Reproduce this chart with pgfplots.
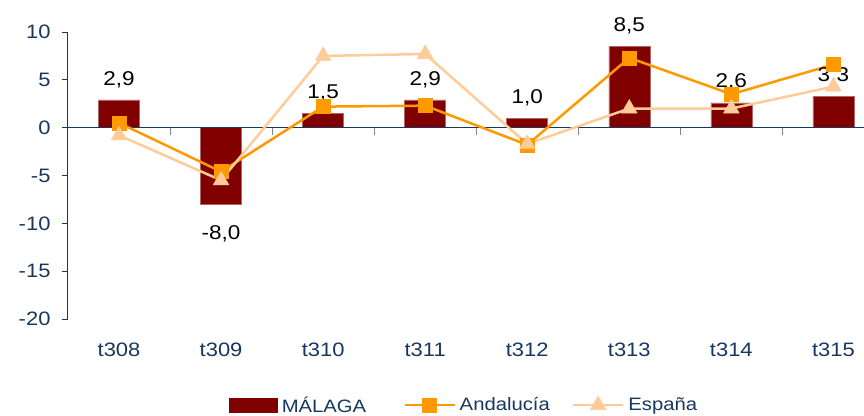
\documentclass[border=0pt]{standalone}
\usepackage{pgfplots}
\pgfplotsset{compat=1.18}
\usepackage{fontspec}
\setmainfont[FakeStretch=1.13]{Liberation Sans}
\definecolor{navy}{HTML}{17375E}
\definecolor{mal}{HTML}{800000}
\definecolor{andc}{HTML}{FF9900}
\definecolor{espc}{HTML}{FFCC99}
\pgfplotsset{
  lineleg/.style={legend image code/.code={\draw[##1] (0bp,0bp) -- (50bp,0bp); \draw[##1, mark repeat=1] plot coordinates {(25bp,0bp)};}},
  barleg/.style={legend image code/.code={\fill[mal] (0bp,-7bp) rectangle (48bp,7bp);}},
}
\begin{document}
\begin{tikzpicture}[x=1bp,y=1bp]
\useasboundingbox (-68bp,-97bp) rectangle (796bp,319bp);
\begin{axis}[
  scale only axis, width=796bp, height=287bp,
  anchor=south west, at={(0,0)},
  xmin=-0.5, xmax=7.3, ymin=-20, ymax=10,
  clip=false,
  axis x line*=bottom, x axis line style={draw=none},
  axis y line*=left, y axis line style={navy, line width=1bp, -},
  xtick={0,...,7},
  xticklabels={t308,t309,t310,t311,t312,t313,t314,t315},
  x tick style={draw=none},
  ytick={-20,-15,...,10},
  ytick pos=left,
  y tick style={navy, line width=0.8bp},
  tick align=outside, major tick length=6bp,
  /pgf/number format/assume math mode=true,
  tick label style={font=\fontsize{19.5}{22}\selectfont, text=navy},
  xticklabel style={yshift=-14bp},
  yticklabel style={xshift=-8bp},
  legend columns=3,
  legend style={at={(0.499,-0.2997)}, anchor=center, draw=none, fill=none,
    font=\fontsize{18}{22}\selectfont, text=navy,
    nodes={inner sep=4bp},
    /tikz/column 2/.style={column sep=33bp},
    /tikz/column 4/.style={column sep=18bp}},
]
\addplot[ybar, bar width=41bp, fill=mal, draw=mal!60!white, line width=0.5bp,
  visualization depends on={y \as \rawy},
  nodes near coords={\pgfmathprintnumber[use comma,fixed,fixed zerofill,precision=1]{\pgfplotspointmeta}},
  nodes near coords align={vertical},
  every node near coord/.append style={font=\fontsize{20}{22}\selectfont, text=black, inner sep=12bp,
     yshift={ifthenelse(\rawy<0,-9,0)}},
  barleg]
  coordinates {(0,2.9) (1,-8.0) (2,1.5) (3,2.9) (4,1.0) (5,8.5) (6,2.6) (7,3.3)};
\addlegendentry{MÁLAGA}
\draw[navy, line width=1bp] (axis cs:-0.5,0) -- (axis cs:7.3,0);
\draw[navy!60!white, line width=0.8bp]
  (axis cs:0.5,0) -- ([yshift=-7bp]axis cs:0.5,0)
  (axis cs:1.5,0) -- ([yshift=-7bp]axis cs:1.5,0)
  (axis cs:2.5,0) -- ([yshift=-7bp]axis cs:2.5,0)
  (axis cs:3.5,0) -- ([yshift=-7bp]axis cs:3.5,0)
  (axis cs:4.5,0) -- ([yshift=-7bp]axis cs:4.5,0)
  (axis cs:5.5,0) -- ([yshift=-7bp]axis cs:5.5,0)
  (axis cs:6.5,0) -- ([yshift=-7bp]axis cs:6.5,0);
\addplot[andc, line width=2.5bp, mark=square*, mark size=7bp, mark options={fill=andc, draw=andc, line width=0.5bp}, lineleg]
  coordinates {(0,0.5) (1,-4.6) (2,2.2) (3,2.3) (4,-1.8) (5,7.3) (6,3.5) (7,6.6)};
\addlegendentry{Andalucía}
\addplot[espc, line width=2.5bp, mark=triangle*, mark size=9bp, mark options={fill=espc, draw=espc, line width=0.5bp}, lineleg]
  coordinates {(0,-0.8) (1,-5.5) (2,7.5) (3,7.7) (4,-1.7) (5,2.0) (6,2.0) (7,4.3)};
\addlegendentry{España}
\end{axis}
\end{tikzpicture}
\end{document}
